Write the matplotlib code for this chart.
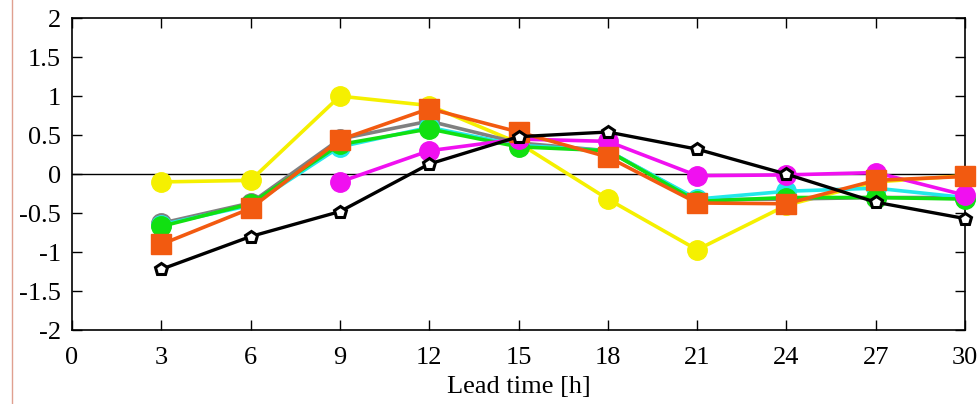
import matplotlib
matplotlib.use("Agg")
import matplotlib.pyplot as plt
from matplotlib.lines import Line2D

plt.rcParams['font.family'] = ['Liberation Serif', 'DejaVu Serif']

lead = [3, 6, 9, 12, 15, 18, 21, 24, 27, 30]

yellow = [-0.10, -0.08, 1.00, 0.88, 0.40, -0.32, -0.97, -0.40, -0.10, -0.02]
gray = [-0.63, -0.37, 0.45, 0.68, 0.40, 0.30, -0.33, -0.32, -0.30, -0.30]
cyan = [-0.65, -0.40, 0.35, 0.60, 0.37, 0.30, -0.32, -0.22, -0.18, -0.30]
green = [-0.67, -0.38, 0.38, 0.58, 0.35, 0.30, -0.35, -0.30, -0.30, -0.32]
magenta_x = [9, 12, 15, 18, 21, 24, 27, 30]
magenta = [-0.10, 0.30, 0.45, 0.42, -0.02, -0.01, 0.02, -0.27]
orange = [-0.90, -0.44, 0.44, 0.84, 0.54, 0.22, -0.37, -0.38, -0.08, -0.03]
black = [-1.22, -0.80, -0.48, 0.13, 0.48, 0.54, 0.32, 0.00, -0.36, -0.57]

fig = plt.figure(figsize=(9.8, 4.04), dpi=100)
ax = fig.add_axes([0.0735, 0.183, 0.9112, 0.772])

ax.axhline(0, color='black', lw=1.0, zorder=1)

kw = dict(lw=2.6, marker='o', ms=14, clip_on=False)
ax.plot(lead, yellow, color='#f5f000', zorder=2, **kw)
ax.plot(lead, gray, color='#808080', zorder=3, **kw)
ax.plot(lead, cyan, color='#22e8e8', zorder=4, **kw)
ax.plot(lead, green, color='#11e011', zorder=5, **kw)
ax.plot(magenta_x, magenta, color='#f010f0', zorder=6, **kw)
ax.plot(lead, orange, color='#f25a10', lw=2.6, marker='s', ms=14,
        clip_on=False, zorder=7)
ax.plot(lead, black, color='black', lw=2.4, marker='p', ms=9,
        mfc='white', mec='black', mew=2.2, clip_on=False, zorder=8)

ax.set_xlim(0, 30)
ax.set_ylim(-2, 2)
ax.set_xticks(range(0, 31, 3))
ax.set_yticks([-2, -1.5, -1, -0.5, 0, 0.5, 1, 1.5, 2])
ax.set_yticklabels(['-2', '-1.5', '-1', '-0.5', '0', '0.5', '1', '1.5', '2'])
ax.tick_params(direction='in', top=True, right=True, length=7, width=1,
               labelsize=19, pad=8)
ax.tick_params(axis='x', pad=12)
ax.set_xlabel('Lead time [h]', fontsize=19, labelpad=5)
for s in ax.spines.values():
    s.set_linewidth(1.2)

# thin border line at left edge of the picture
fig.add_artist(Line2D([0.0125, 0.0125], [0, 1], color='#e0a090', lw=1,
                      transform=fig.transFigure))

fig.savefig('out.png', dpi=100)
